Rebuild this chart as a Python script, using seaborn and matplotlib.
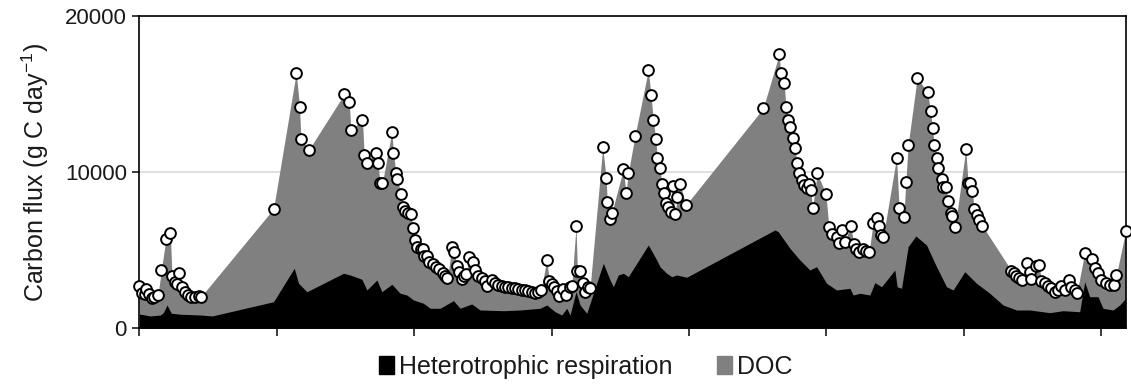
import matplotlib
matplotlib.use("Agg")
import matplotlib.pyplot as plt
import matplotlib.patches as mpatches
import seaborn as sns
import pandas as pd

# ---- data (time index, flux in g C day-1) ----
circle_t = [0, 2.7, 5.3, 6.7, 10, 12.7, 14.3, 18.7, 22, 26.7, 31, 32.7, 35.3, 37.7, 40, 42.7, 45.3, 48.7, 52, 55.3,
            59.3, 61.3, 134.3, 157, 160.3, 161.7, 169.3, 205, 210, 211.7, 223.3, 225, 227.7, 237, 238.7, 241, 243.3,
            252.7, 254.3, 256.7, 258.3, 261.7, 263.7, 266, 269.3, 271.7, 273.7, 276.3, 278.3, 281.7, 284.3, 285,
            288.3, 290.3, 293.7, 297, 300.3, 303.7, 306, 308.3, 312.7, 315.3, 317.7, 320.3, 322.7, 325, 327, 330.3,
            333.7, 336, 339.3, 342.7, 346, 348.3, 352.7, 356, 359.3, 362.7, 366, 369.3, 372.7, 376, 379.3, 382.7,
            386, 389.3, 392.7, 396, 399.3, 402, 407.7, 410.3, 412.7, 415, 417.7, 420.3, 423.7, 427, 431, 432.7, 437,
            438.3, 441, 443.7, 446, 449.3, 451, 463.7, 467, 468.3, 471, 472.7, 484.3, 487, 489.3, 496, 509.3, 512,
            514.3, 516.7, 518.3, 521, 522.7, 525.3, 527, 529.3, 532, 533.7, 536, 538.3, 541, 547, 624.3, 640.3,
            641.7, 645.3, 647, 649.3, 651, 654.3, 656, 658.3, 660.3, 662.7, 665, 667.7, 670, 671.7, 673.7, 678.3,
            687, 690, 693.5, 697.7, 700.3, 703.3, 706, 711.7, 715, 717, 720.3, 723.7, 727, 730.3, 734.3, 737.7,
            740.3, 742, 744.3, 757.7, 760.3, 765, 767, 769.3, 778.3, 788.7, 791.7, 793.7, 795.3, 797.7, 799.3,
            802.7, 804.3, 807, 809.3, 811.7, 813.7, 816.3, 827, 829.3, 831.7, 833.7, 835, 838.3, 840.3, 843.7,
            872.7, 875, 877.7, 880.3, 883.7, 888.3, 891, 892.7, 897, 900.3, 902.7, 906, 909.3, 912.7, 916, 919.3,
            922.7, 926, 930.3, 932.7, 936, 938.3, 946, 953.7, 956, 959.3, 962.7, 967, 971, 975, 977.7, 987]
total_flux = [2710, 2280, 2200, 2500, 2200, 1920, 2020, 2110, 3730, 5740, 6080, 3350, 2980, 2840, 3520, 2620, 2340,
              2130, 2020, 2020, 2070, 1990, 7650, 16360, 14180, 12140, 11390, 14980, 14480, 12690, 13330, 11070,
              10560, 11200, 10560, 9280, 9320, 12580, 11240, 9920, 9540, 8600, 7750, 7510, 7360, 7300, 6440, 5650,
              5220, 5100, 5080, 4630, 4630, 4260, 4120, 3940, 3780, 3560, 3350, 3200, 5190, 4880, 3990, 3620, 3140,
              3350, 3480, 4550, 4260, 3730, 3350, 3200, 3050, 2710, 3090, 2880, 2770, 2710, 2660, 2620, 2560, 2560,
              2500, 2450, 2450, 2410, 2340, 2280, 2340, 2450, 4370, 3050, 2840, 2620, 2410, 2070, 2500, 2130, 2620,
              2710, 6570, 3690, 3690, 2880, 2340, 2620, 2560, 11590, 9640, 8070, 6980, 7360, 10180, 8640, 9960,
              12310, 16530, 14910, 13330, 12120, 10920, 10280, 9220, 8640, 8040, 7750, 7460, 9110, 7320, 8390, 9240,
              7890, 14080, 17540, 16360, 15680, 14150, 13330, 12900, 12160, 11520, 10560, 9960, 9490, 9170, 8960,
              9240, 8850, 7680, 9920, 8600, 6450, 6050, 5860, 5440, 6290, 5540, 6570, 5400, 5060, 4900, 5060, 4970,
              4900, 6760, 7040, 6550, 5970, 5830, 10920, 7680, 7140, 9380, 11730, 16000, 15140, 13900, 12800, 11730,
              10880, 10240, 9540, 9060, 9030, 8170, 7400, 7190, 6470, 11480, 9280, 9280, 8810, 7650, 7250, 6930,
              6550, 3690, 3560, 3350, 3200, 3090, 4160, 3620, 3140, 3990, 4050, 3050, 2880, 2710, 2560, 2340, 2450,
              2710, 2450, 3090, 2660, 2450, 2280, 4840, 4420, 3840, 3560, 3090, 2920, 2770, 2770, 3410, 6230]

resp_t = [0, 11, 21, 24, 27.7, 32, 41, 61, 73, 134.3, 155, 159.3, 167.7, 204.3, 211, 222.7, 227.7, 232.7, 237.7,
          242.7, 252.7, 261, 267.7, 274.3, 284.3, 291, 301, 314.3, 321, 332.7, 341, 364.3, 381, 401, 407.7, 416,
          422.7, 427.7, 431, 437, 441, 447.7, 464.3, 471, 474.3, 479.3, 484.3, 489.3, 509.3, 517.7, 521, 527.7,
          532.7, 537.7, 547.7, 636, 639.3, 651, 661, 671, 677.7, 687.7, 697.7, 711, 714.3, 721, 731, 736, 742.7,
          756, 758.3, 762.7, 769.3, 777, 787.7, 797.7, 807.7, 814.3, 826, 837.7, 851, 864.3, 877.7, 891, 911,
          924.3, 941, 946, 951, 959.3, 964.3, 974.3, 981, 987]
resp_flux = [915, 790, 850, 1000, 1490, 960, 900, 850, 790, 1700, 3840, 2880, 2340, 3520, 3410, 3135, 2450, 2770,
             3090, 2340, 2815, 2240, 2130, 1810, 1600, 1280, 1280, 1770, 1280, 1555, 1170, 1125, 1170, 1280, 1490,
             1060, 850, 1280, 850, 2340, 1490, 960, 4160, 3090, 2660, 3410, 3520, 3300, 5330, 4370, 3940, 3520,
             3300, 3410, 3265, 6290, 6180, 5120, 4370, 3730, 3940, 2880, 2450, 2560, 2130, 2240, 2130, 2920, 2660,
             3730, 2660, 2560, 5220, 5905, 5330, 3940, 2660, 2450, 3620, 2880, 2240, 1490, 1170, 1170, 1000, 1125,
             1060, 2980, 2020, 2020, 1280, 1170, 1490, 1920]

x_ticks = [0, 137.5, 275, 412.5, 550, 687.5, 825, 962.5]
y_ticks = [0, 10000, 20000]
series_labels = ["Heterotrophic respiration", "DOC"]
y_label = "Carbon flux (g C day$^{-1}$)"

circles = pd.DataFrame({"t": circle_t, "flux": total_flux})

sns.set_theme(style="ticks")
plt.rcParams["font.family"] = ["Liberation Sans", "DejaVu Sans"]
plt.rcParams["mathtext.fontset"] = "custom"
plt.rcParams["mathtext.rm"] = "Liberation Sans"
plt.rcParams["text.color"] = "#1a1a1a"
plt.rcParams["axes.labelcolor"] = "#1a1a1a"
plt.rcParams["ytick.color"] = "#1a1a1a"
plt.rcParams["xtick.color"] = "#1a1a1a"

fig = plt.figure(figsize=(11.31, 3.87), dpi=100)
ax = fig.add_axes([0.1232, 0.1517, 0.8721, 0.8077])

grey = "#808080"
ax.fill_between(circle_t, 0, total_flux, color=grey, linewidth=0, zorder=2)
ax.fill_between(resp_t, 0, resp_flux, color="black", linewidth=0, zorder=3)
sns.scatterplot(data=circles, x="t", y="flux", ax=ax, marker="o", s=60,
                facecolor="white", edgecolor="black", linewidth=1.4, zorder=4, legend=False, clip_on=False)

ax.set_xlim(0, 987)
ax.set_ylim(0, 20000)
ax.set_xticks(x_ticks)
ax.set_xticklabels([])
ax.set_yticks(y_ticks)
ax.set_yticklabels([str(v) for v in y_ticks])
ax.yaxis.grid(True, color="#d9d9d9", linewidth=1.2)
ax.set_axisbelow(True)
ax.set_xlabel("")
ax.set_ylabel(y_label, fontsize=18, labelpad=10)
ax.tick_params(axis="y", labelsize=16, length=5, width=1.2, direction="out", pad=4)
ax.tick_params(axis="x", length=6, width=1.2, direction="out")
for s in ax.spines.values():
    s.set_color("black")
    s.set_linewidth(1.2)

handles = [mpatches.Patch(color="black", label=series_labels[0]),
           mpatches.Patch(color=grey, label=series_labels[1])]
fig.legend(handles=handles, loc="center", bbox_to_anchor=(0.518, 0.052), ncol=2, frameon=False,
           fontsize=18, handlelength=0.6, handleheight=0.75, handletextpad=0.2, columnspacing=1.8)

fig.savefig("out.png", dpi=100)
